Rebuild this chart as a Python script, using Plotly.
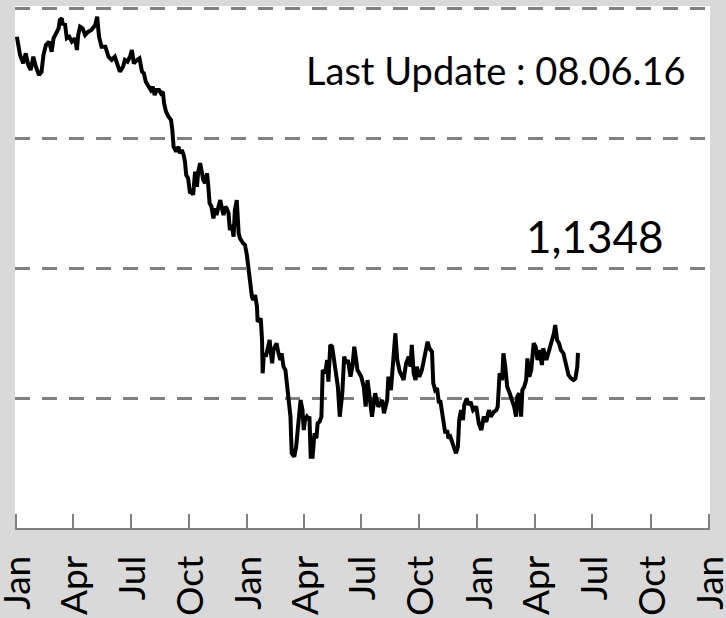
import plotly.graph_objects as go

# EUR/USD closing rate, Jan 2014 - Jun 2016
dates_2014 = [
    "2014-01-02", "2014-01-07", "2014-01-12", "2014-01-16", "2014-01-20", "2014-01-24", "2014-01-28",
    "2014-02-01", "2014-02-06", "2014-02-10", "2014-02-13", "2014-02-17", "2014-02-22", "2014-02-26",
    "2014-03-01", "2014-03-06", "2014-03-09", "2014-03-11", "2014-03-14", "2014-03-16", "2014-03-19",
    "2014-03-22", "2014-03-26", "2014-03-30", "2014-04-04", "2014-04-07", "2014-04-09", "2014-04-12",
    "2014-04-16", "2014-04-20", "2014-04-25", "2014-04-30", "2014-05-06", "2014-05-09", "2014-05-12",
    "2014-05-16", "2014-05-22", "2014-05-27", "2014-06-01", "2014-06-06", "2014-06-12", "2014-06-14",
    "2014-06-19", "2014-06-22", "2014-06-26", "2014-06-30", "2014-07-03", "2014-07-06", "2014-07-11",
    "2014-07-15", "2014-07-19", "2014-07-22", "2014-07-25", "2014-07-29", "2014-08-02", "2014-08-05",
    "2014-08-08", "2014-08-11", "2014-08-15", "2014-08-18", "2014-08-21", "2014-08-23", "2014-08-26",
    "2014-08-30", "2014-09-03", "2014-09-05", "2014-09-07", "2014-09-11", "2014-09-15", "2014-09-17",
    "2014-09-20", "2014-09-23", "2014-09-25", "2014-09-27", "2014-09-30", "2014-10-03", "2014-10-06",
    "2014-10-08", "2014-10-11", "2014-10-14", "2014-10-16", "2014-10-19", "2014-10-22", "2014-10-24",
    "2014-10-27", "2014-10-30", "2014-11-01", "2014-11-03", "2014-11-06", "2014-11-09", "2014-11-12",
    "2014-11-14", "2014-11-17", "2014-11-20", "2014-11-22", "2014-11-25", "2014-11-28", "2014-11-30",
    "2014-12-03", "2014-12-05", "2014-12-08", "2014-12-11", "2014-12-13", "2014-12-16", "2014-12-19",
    "2014-12-21", "2014-12-26", "2014-12-29",
]
rates_2014 = [
    1.3782, 1.3641, 1.3577, 1.3654, 1.3564, 1.3526, 1.3628,
    1.3551, 1.3487, 1.3513, 1.3641, 1.3718, 1.3744, 1.3667,
    1.3770, 1.3821, 1.3847, 1.3911, 1.3924, 1.3872, 1.3885,
    1.3770, 1.3782, 1.3744, 1.3770, 1.3680, 1.3795, 1.3859,
    1.3847, 1.3795, 1.3821, 1.3834, 1.3872, 1.3936, 1.3782,
    1.3705, 1.3705, 1.3628, 1.3603, 1.3628, 1.3526, 1.3513,
    1.3551, 1.3603, 1.3590, 1.3628, 1.3680, 1.3577, 1.3603,
    1.3616, 1.3513, 1.3500, 1.3436, 1.3410, 1.3372, 1.3397,
    1.3333, 1.3372, 1.3372, 1.3346, 1.3359, 1.3269, 1.3205,
    1.3166, 1.3141, 1.3064, 1.2935, 1.2897, 1.2935, 1.2884,
    1.2910, 1.2871, 1.2820, 1.2717, 1.2692, 1.2577, 1.2589,
    1.2564, 1.2743, 1.2627, 1.2743, 1.2808, 1.2743, 1.2679,
    1.2654, 1.2731, 1.2627, 1.2500, 1.2473, 1.2384, 1.2461,
    1.2410, 1.2473, 1.2525, 1.2473, 1.2410, 1.2473, 1.2461,
    1.2423, 1.2294, 1.2333, 1.2243, 1.2448, 1.2525, 1.2269,
    1.2230, 1.2192, 1.2179,
]

dates_2015 = [
    "2015-01-01", "2015-01-03", "2015-01-06", "2015-01-09", "2015-01-11", "2015-01-14", "2015-01-17",
    "2015-01-18", "2015-01-21", "2015-01-23", "2015-01-25", "2015-01-26", "2015-01-28", "2015-01-31",
    "2015-02-03", "2015-02-06", "2015-02-08", "2015-02-10", "2015-02-12", "2015-02-15", "2015-02-17",
    "2015-02-20", "2015-02-23", "2015-02-25", "2015-02-28", "2015-03-03", "2015-03-05", "2015-03-08",
    "2015-03-11", "2015-03-12", "2015-03-13", "2015-03-17", "2015-03-20", "2015-03-22", "2015-03-25",
    "2015-03-27", "2015-03-30", "2015-04-01", "2015-04-03", "2015-04-06", "2015-04-08", "2015-04-10",
    "2015-04-12", "2015-04-15", "2015-04-18", "2015-04-21", "2015-04-23", "2015-04-26", "2015-04-29",
    "2015-05-01", "2015-05-05", "2015-05-08", "2015-05-10", "2015-05-13", "2015-05-16", "2015-05-18",
    "2015-05-21", "2015-05-25", "2015-05-28", "2015-06-01", "2015-06-04", "2015-06-07", "2015-06-10",
    "2015-06-14", "2015-06-17", "2015-06-20", "2015-06-23", "2015-06-25", "2015-06-28", "2015-07-01",
    "2015-07-05", "2015-07-08", "2015-07-11", "2015-07-14", "2015-07-18", "2015-07-23", "2015-07-28",
    "2015-08-03", "2015-08-06", "2015-08-11", "2015-08-13", "2015-08-17", "2015-08-20", "2015-08-24",
    "2015-08-27", "2015-08-31", "2015-09-04", "2015-09-06", "2015-09-10", "2015-09-14", "2015-09-17",
    "2015-09-19", "2015-09-22", "2015-09-25", "2015-09-27", "2015-10-01", "2015-10-05", "2015-10-09",
    "2015-10-12", "2015-10-14", "2015-10-17", "2015-10-21", "2015-10-23", "2015-10-26", "2015-10-29",
    "2015-11-01", "2015-11-03", "2015-11-06", "2015-11-08", "2015-11-11", "2015-11-14", "2015-11-16",
    "2015-11-19", "2015-11-22", "2015-11-25", "2015-11-28", "2015-12-01", "2015-12-03", "2015-12-06",
    "2015-12-09", "2015-12-11", "2015-12-15", "2015-12-18", "2015-12-21", "2015-12-25", "2015-12-30",
]
rates_2015 = [
    1.2102, 1.2012, 1.1909, 1.1781, 1.1755, 1.1794, 1.1704,
    1.1588, 1.1601, 1.1614, 1.1447, 1.1191, 1.1345, 1.1319,
    1.1383, 1.1447, 1.1345, 1.1268, 1.1370, 1.1396, 1.1422,
    1.1345, 1.1293, 1.1345, 1.1242, 1.1216, 1.1126, 1.0985,
    1.0857, 1.0703, 1.0575, 1.0549, 1.0626, 1.0729, 1.0934,
    1.0985, 1.0908, 1.0754, 1.0831, 1.0857, 1.0844, 1.0857,
    1.0549, 1.0549, 1.0729, 1.0691, 1.0806, 1.0818, 1.0857,
    1.1216, 1.1191, 1.1293, 1.1126, 1.1409, 1.1396, 1.1319,
    1.1191, 1.1088, 1.0857, 1.1037, 1.1319, 1.1268, 1.1293,
    1.1165, 1.1242, 1.1396, 1.1293, 1.1216, 1.1191, 1.1165,
    1.1088, 1.0934, 1.1139, 1.0985, 1.0857, 1.1037, 1.0934,
    1.0985, 1.0883, 1.0985, 1.1165, 1.1062, 1.1242, 1.1499,
    1.1293, 1.1203, 1.1165, 1.1139, 1.1268, 1.1319, 1.1242,
    1.1409, 1.1191, 1.1139, 1.1242, 1.1165, 1.1216, 1.1332,
    1.1396, 1.1434, 1.1383, 1.1357, 1.1114, 1.1062, 1.1075,
    1.0960, 1.0985, 1.0883, 1.0806, 1.0729, 1.0754, 1.0691,
    1.0703, 1.0652, 1.0600, 1.0575, 1.0626, 1.0831, 1.0908,
    1.0831, 1.0947, 1.0998, 1.0947, 1.0972, 1.0908, 1.0934,
]

dates_2016 = [
    "2016-01-03", "2016-01-07", "2016-01-11", "2016-01-15", "2016-01-19", "2016-01-22", "2016-01-27",
    "2016-01-31", "2016-02-02", "2016-02-05", "2016-02-09", "2016-02-11", "2016-02-14", "2016-02-17",
    "2016-02-21", "2016-02-25", "2016-02-28", "2016-03-02", "2016-03-04", "2016-03-07", "2016-03-10",
    "2016-03-12", "2016-03-15", "2016-03-18", "2016-03-20", "2016-03-23", "2016-03-26", "2016-03-30",
    "2016-04-02", "2016-04-05", "2016-04-08", "2016-04-12", "2016-04-14", "2016-04-19", "2016-04-22",
    "2016-04-25", "2016-04-28", "2016-05-01", "2016-05-03", "2016-05-06", "2016-05-09", "2016-05-12",
    "2016-05-16", "2016-05-19", "2016-05-22", "2016-05-24", "2016-05-28", "2016-06-01", "2016-06-04",
    "2016-06-07", "2016-06-08",
]
rates_2016 = [
    1.0806, 1.0754, 1.0857, 1.0818, 1.0908, 1.0857, 1.0895,
    1.0908, 1.0934, 1.1191, 1.1139, 1.1345, 1.1242, 1.1088,
    1.1037, 1.0985, 1.0934, 1.0857, 1.1011, 1.1037, 1.0857,
    1.1062, 1.1088, 1.1139, 1.1306, 1.1165, 1.1216, 1.1422,
    1.1396, 1.1293, 1.1370, 1.1255, 1.1383, 1.1293, 1.1345,
    1.1396, 1.1447, 1.1499, 1.1563, 1.1447, 1.1422, 1.1370,
    1.1345, 1.1268, 1.1203, 1.1178, 1.1152, 1.1139, 1.1152,
    1.1242, 1.1348,
]

dates = dates_2014 + dates_2015 + dates_2016
rates = rates_2014 + rates_2015 + rates_2016

# Quarterly ticks on the time axis
tick_dates = [
    "2014-01-01", "2014-04-01", "2014-07-01", "2014-10-01",
    "2015-01-01", "2015-04-01", "2015-07-01", "2015-10-01",
    "2016-01-01", "2016-04-01", "2016-07-01", "2016-10-01",
    "2017-01-01",
]
tick_labels = ["Jan", "Apr", "Jul", "Oct"] * 3 + ["Jan"]
grid_levels = [1.1, 1.2, 1.3, 1.4]

last_update = "Last Update : 08.06.16"
last_rate = f"{rates[-1]:.4f}".replace(".", ",")

FONT = "Lato"
GREY = "#808080"
PANEL = "#d9d9d9"

# value range with a sliver of headroom so the top grid line is drawn
Y_MIN, Y_MAX = 1.0, 1.40185

fig = go.Figure()
fig.add_trace(go.Scatter(
    x=dates, y=rates, mode="lines",
    line=dict(color="black", width=4),
    hoverinfo="x+y", showlegend=False,
))

fig.update_layout(
    width=726, height=618,
    margin=dict(l=15, r=16, t=6, b=90),
    paper_bgcolor=PANEL,
    plot_bgcolor="white",
    font=dict(family=FONT, color="black"),
    xaxis=dict(
        type="date",
        # two days of slack so the ticks on both ends are kept
        range=["2013-12-30", "2017-01-03"],
        tickmode="array", tickvals=tick_dates, ticktext=tick_labels,
        ticks="inside", ticklen=14, tickwidth=2, tickcolor=GREY,
        showline=True, linecolor=GREY, linewidth=2,
        showgrid=False, zeroline=False, automargin=False,
        tickangle=-90, ticklabelstandoff=11, ticklabelshift=2,
        ticklabeloverflow="allow",
        tickfont=dict(family=FONT, size=37, color="black"),
    ),
    yaxis=dict(
        range=[Y_MIN, Y_MAX],
        tickmode="array", tickvals=grid_levels,
        showticklabels=False, ticks="",
        showgrid=True, gridcolor=GREY, gridwidth=3, griddash="15px,12px",
        zeroline=False, showline=False, automargin=False,
    ),
    annotations=[
        dict(text=last_update, xref="paper", yref="paper", x=0.968, y=0.8774,
             xanchor="right", yanchor="middle", showarrow=False,
             font=dict(family=FONT, size=38, color="black")),
        dict(text=last_rate, xref="paper", yref="paper", x=0.9365, y=0.5600,
             xanchor="right", yanchor="middle", showarrow=False,
             font=dict(family=FONT, size=44, color="black")),
    ],
)

fig.write_html("out.html")
